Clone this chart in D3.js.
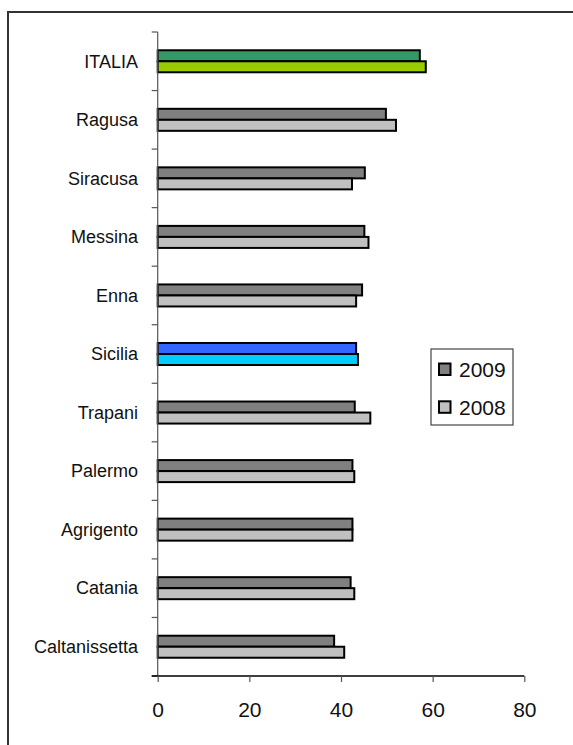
<!DOCTYPE html>
<html>
<head>
<meta charset="utf-8">
<script src="https://cdn.jsdelivr.net/npm/d3@7/dist/d3.min.js"></script>
<style>
  html, body { margin: 0; padding: 0; background: #fff; }
  svg { display: block; font-family: "Liberation Sans", Arial, sans-serif; }
</style>
</head>
<body>
<script>
// Provinces, top to bottom
const categories = ["ITALIA", "Ragusa", "Siracusa", "Messina", "Enna", "Sicilia",
                    "Trapani", "Palermo", "Agrigento", "Catania", "Caltanissetta"];
const seriesNames = ["2009", "2008"];
const values2009 = [57.2, 49.8, 45.2, 45.1, 44.6, 43.3, 43.0, 42.5, 42.5, 42.1, 38.5];
const values2008 = [58.5, 52.0, 42.4, 46.0, 43.3, 43.7, 46.4, 42.9, 42.5, 42.9, 40.7];
const xTicks = [0, 20, 40, 60, 80];

// Fill colours: default per series, with highlighted rows
const seriesColors = { "2009": "#808080", "2008": "#c0c0c0" };
const highlightColors = {
  "ITALIA":  { "2009": "#339966", "2008": "#99cc00" },
  "Sicilia": { "2009": "#3366ff", "2008": "#00ccff" }
};

const W = 573, H = 745;
const svg = d3.select("body").append("svg").attr("width", W).attr("height", H);

// Outer frame (left and top edges visible)
svg.append("rect")
  .attr("x", 8).attr("y", 12)
  .attr("width", W + 20).attr("height", H + 20)
  .attr("fill", "none").attr("stroke", "#333").attr("stroke-width", 2);

const plot = { left: 157.7, right: 524.3, top: 32, bottom: 676 };

const x = d3.scaleLinear().domain([0, 80]).range([plot.left, plot.right]);
const y = d3.scaleBand().domain(categories).range([plot.top, plot.bottom]).padding(0);
const barGroup = y.bandwidth() * 0.376;
const ySub = d3.scaleBand().domain(seriesNames).range([0, barGroup]).padding(0);

const rows = categories.map((c, i) => ({ cat: c, "2009": values2009[i], "2008": values2008[i] }));

// Bars
const g = svg.append("g");
rows.forEach(r => {
  const top = y(r.cat) + (y.bandwidth() - barGroup) / 2;
  seriesNames.forEach(s => {
    const fill = highlightColors[r.cat] ? highlightColors[r.cat][s] : seriesColors[s];
    g.append("rect")
      .attr("x", x(0))
      .attr("y", top + ySub(s))
      .attr("width", x(r[s]) - x(0))
      .attr("height", ySub.bandwidth())
      .attr("fill", fill)
      .attr("stroke", "#000")
      .attr("stroke-width", 2);
  });
});

// Vertical (category) axis
svg.append("line")
  .attr("x1", x(0)).attr("x2", x(0))
  .attr("y1", plot.top).attr("y2", plot.bottom)
  .attr("stroke", "#555").attr("stroke-width", 1.2);
d3.range(categories.length + 1).forEach(i => {
  const yy = plot.top + i * y.step();
  svg.append("line")
    .attr("x1", x(0) - 6).attr("x2", x(0))
    .attr("y1", yy).attr("y2", yy)
    .attr("stroke", "#555").attr("stroke-width", 1.2);
});
svg.append("g").selectAll("text").data(categories).join("text")
  .attr("x", 138)
  .attr("y", d => y(d) + y.bandwidth() / 2)
  .attr("dy", "0.35em")
  .attr("text-anchor", "end")
  .attr("font-size", 18)
  .attr("fill", "#111")
  .text(d => d);

// Horizontal (value) axis
const xAxis = d3.axisBottom(x).tickValues(xTicks).tickSize(6).tickPadding(20).tickSizeOuter(0);
const ax = svg.append("g").attr("transform", `translate(0,${plot.bottom})`).call(xAxis);
ax.select(".domain").attr("stroke", "#000").attr("stroke-width", 1.5)
  .attr("d", `M${x(0) - 6},0H${x(80)}`);
ax.selectAll(".tick line").attr("stroke", "#555").attr("stroke-width", 1.2);
ax.selectAll(".tick text")
  .attr("font-size", 21).attr("fill", "#111")
  .attr("font-family", "'Liberation Sans', Arial, sans-serif");

// Legend
const lg = svg.append("g");
lg.append("rect")
  .attr("x", 431).attr("y", 349).attr("width", 82).attr("height", 76)
  .attr("fill", "#fff").attr("stroke", "#444").attr("stroke-width", 1.2);
seriesNames.forEach((s, i) => {
  const cy = 369.5 + i * 37.8;
  lg.append("rect")
    .attr("x", 439).attr("y", cy - 6).attr("width", 11.5).attr("height", 11.5)
    .attr("fill", seriesColors[s]).attr("stroke", "#000").attr("stroke-width", 2);
  lg.append("text")
    .attr("x", 459).attr("y", cy).attr("dy", "0.35em")
    .attr("font-size", 21).attr("fill", "#111")
    .text(s);
});
</script>
</body>
</html>
